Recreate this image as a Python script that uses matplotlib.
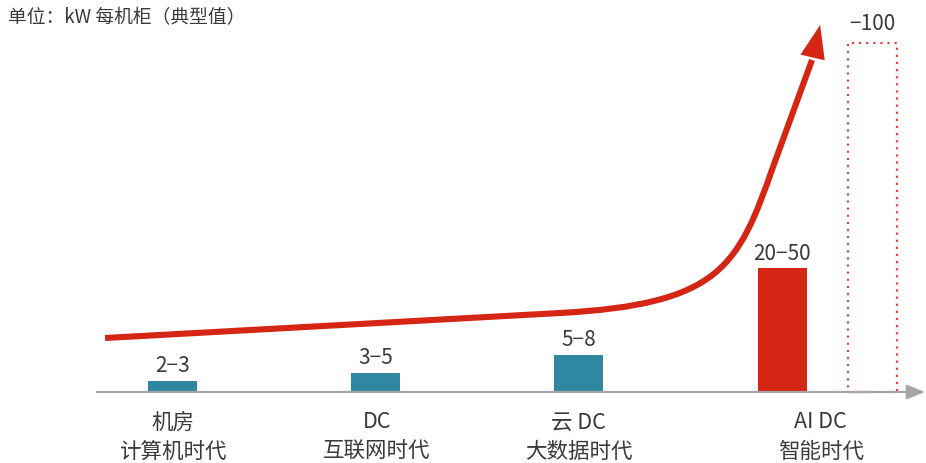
import matplotlib
matplotlib.use("Agg")
import matplotlib.pyplot as plt
from matplotlib.patches import FancyArrowPatch, PathPatch
from matplotlib.path import Path

plt.rcParams['font.family'] = ['Noto Sans CJK SC', 'DejaVu Sans']

# ---- data ----
categories = ["机房\n计算机时代", "DC\n互联网时代", "云 DC\n大数据时代", "AI DC\n智能时代"]
bar_pos = [0, 1, 2, 3]
bar_values = [1.1, 1.9, 3.7, 12.4]          # relative bar heights
bar_labels = ["2−3", "3−5", "5−8", "20−50"]
bar_colors = ["#2f87a1", "#2f87a1", "#2f87a1", "#d52515"]
future_pos = 3.445
future_value = 34.9
future_label = "−100"
cat_label_pos = [0, 1.006, 2.0, 3.19]
unit_text = "单位：kW 每机柜（典型值）"

# trend arrow: straight run, cubic bend, straight climb (category units, relative height units)
trend_x = [-0.332, 1.907, 2.694, 2.783, 2.955, 3.147]
trend_y = [5.4, 7.9, 8.78, 12.5, 22.5, 33.2]
trend_codes = [Path.MOVETO, Path.LINETO, Path.CURVE4, Path.CURVE4, Path.CURVE4, Path.LINETO]
trend_tip = (3.187, 36.7)

# ---- figure ----
fig = plt.figure(figsize=(9.26, 4.63), dpi=100)
ax = fig.add_axes([0, 0, 1, 1])
ax.set_xlim(-0.849, 3.708)
ax.set_ylim(-7.1, 39.2)
ax.axis('off')

text_color = "#3a3a3a"
red = "#d52515"

# bars
ax.bar(bar_pos, bar_values, width=0.241, color=bar_colors, zorder=3)
for x, v, lab in zip(bar_pos, bar_values, bar_labels):
    ax.text(x, v + 0.85, lab, ha='center', va='baseline', fontsize=15, color=text_color)

# dotted future bar
ax.bar([future_pos], [future_value], width=0.241, fill=False, edgecolor="#e0463c",
       linestyle=(0, (1, 2.2)), linewidth=1.6, zorder=2)
ax.text(future_pos, future_value + 1.3, future_label, ha='center', va='baseline',
        fontsize=15, color=text_color)

# x axis arrow
ax.add_patch(FancyArrowPatch((-0.372, 0), (3.703, 0),
                             arrowstyle='-|>,head_length=11,head_width=4.5',
                             mutation_scale=1, color="#a6a6a6", lw=1.6,
                             shrinkA=0, shrinkB=0, zorder=4))

# category labels
for x, lab in zip(cat_label_pos, categories):
    ax.text(x, -4.5, lab, ha='center', va='center', fontsize=15.5,
            color=text_color, linespacing=1.42)

# trend arrow
trend_path = Path(list(zip(trend_x, trend_y)), trend_codes)
ax.add_patch(PathPatch(trend_path, fill=False, edgecolor=red, lw=4.4,
                       capstyle='butt', joinstyle='round', zorder=5))
ax.add_patch(FancyArrowPatch((trend_x[-1], trend_y[-1]), trend_tip,
                             arrowstyle='-|>,head_length=24,head_width=9',
                             mutation_scale=1, color=red, lw=0,
                             shrinkA=0, shrinkB=0, zorder=6))

# unit
fig.text(8 / 926, 1 - 18 / 463, unit_text, ha='left', va='center',
         fontsize=13.5, color=text_color)

fig.savefig("out.png", dpi=100)
